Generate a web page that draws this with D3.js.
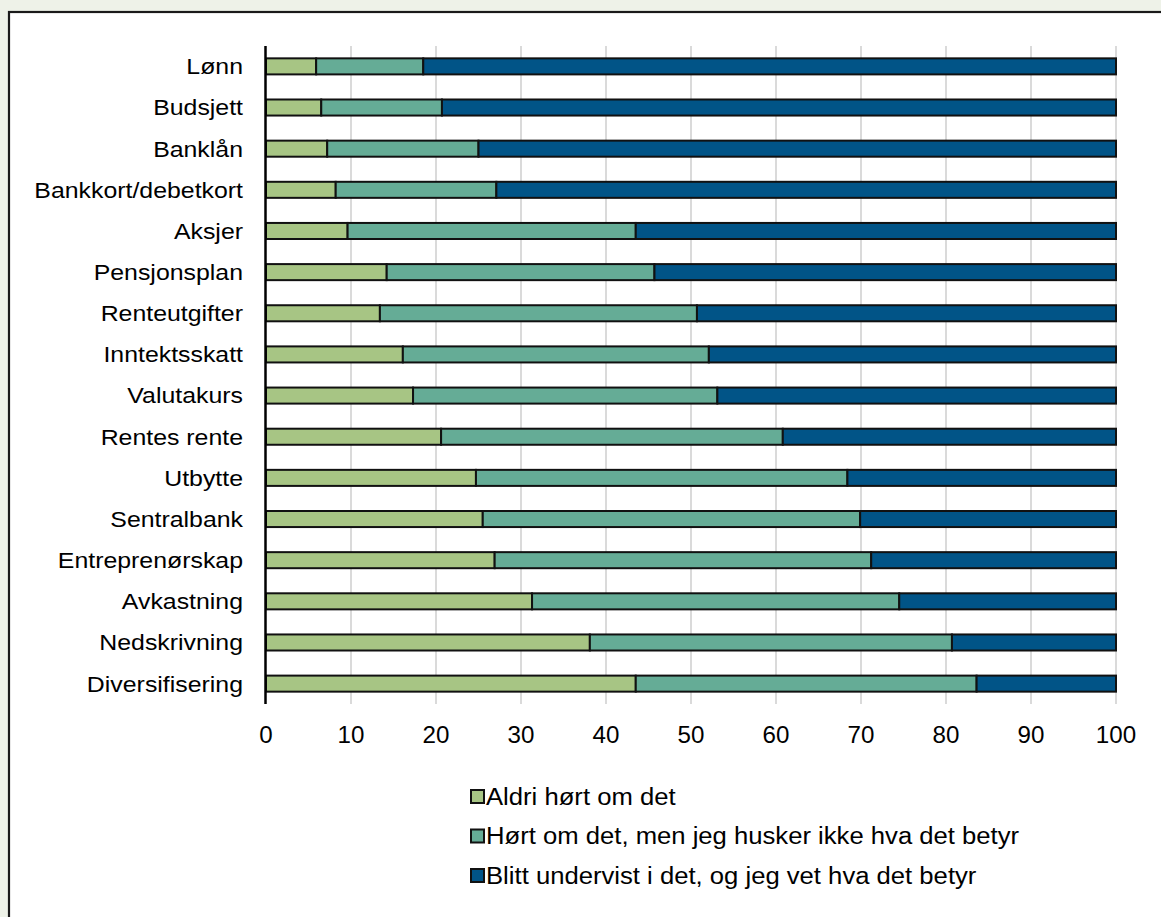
<!DOCTYPE html>
<html><head><meta charset="utf-8">
<script src="https://cdn.jsdelivr.net/npm/d3@7"></script>
<style>
body{margin:0;background:#eef2e8;}
svg{display:block;}
text{font-family:"Liberation Sans",Arial,sans-serif;fill:#000;}
</style></head>
<body>
<script>
const categories = ["Lønn","Budsjett","Banklån","Bankkort/debetkort","Aksjer","Pensjonsplan","Renteutgifter","Inntektsskatt","Valutakurs","Rentes rente","Utbytte","Sentralbank","Entreprenørskap","Avkastning","Nedskrivning","Diversifisering"];
const aldri = [5.9,6.5,7.2,8.2,9.6,14.2,13.4,16.1,17.3,20.6,24.7,25.5,26.9,31.3,38.1,43.5];
const hortOm = [12.6,14.2,17.8,18.9,33.9,31.5,37.3,36.0,35.8,40.2,43.7,44.4,44.3,43.2,42.6,40.1];
const undervist = categories.map((c,i)=> +(100 - aldri[i] - hortOm[i]).toFixed(1));
const seriesNames = ["Aldri hørt om det","Hørt om det, men jeg husker ikke hva det betyr","Blitt undervist i det, og jeg vet hva det betyr"];
const colors = ["#a7c584","#65ac96","#015487"];
const xTicks = [0,10,20,30,40,50,60,70,80,90,100];

const W=1161,H=917;
const svg=d3.select("body").append("svg").attr("width",W).attr("height",H);
svg.append("rect").attr("x",0).attr("y",0).attr("width",W).attr("height",H).attr("fill","#eef2e8");
svg.append("rect").attr("x",9).attr("y",12).attr("width",W+20).attr("height",H+20).attr("fill","#fff").attr("stroke","#1a1a1a").attr("stroke-width",2.2);

const x=d3.scaleLinear().domain([0,100]).range([266,1116]);
const y=d3.scaleBand().domain(categories).range([46,704]).paddingInner(0.61).paddingOuter(0.3);

function stretch(sel,k){
  sel.each(function(){ const w=this.getComputedTextLength(); d3.select(this).attr("textLength",w*k).attr("lengthAdjust","spacingAndGlyphs"); });
}

// gridlines
svg.append("g").selectAll("line").data(xTicks.slice(1)).join("line")
  .attr("x1",d=>x(d)).attr("x2",d=>x(d)).attr("y1",46).attr("y2",704)
  .attr("stroke","#dadada").attr("stroke-width",2);

const data = categories.map((c,i)=>({cat:c,aldri:aldri[i],hort:hortOm[i],under:undervist[i]}));
const stack=d3.stack().keys(["aldri","hort","under"])(data);

svg.append("g").selectAll("g").data(stack).join("g").attr("fill",(d,i)=>colors[i])
  .selectAll("rect").data(d=>d).join("rect")
  .attr("x",d=>x(d[0])).attr("width",d=>x(d[1])-x(d[0]))
  .attr("y",d=>y(d.data.cat)).attr("height",y.bandwidth())
  .attr("stroke","#111").attr("stroke-width",2);

// y axis line
svg.append("line").attr("x1",265.5).attr("x2",265.5).attr("y1",46).attr("y2",704).attr("stroke","#000").attr("stroke-width",2.5);

// category labels
const cl=svg.append("g").selectAll("text").data(categories).join("text")
  .attr("x",243).attr("y",d=>y(d)+y.bandwidth()/2).attr("dy","0.36em")
  .attr("text-anchor","end").attr("font-size",22).text(d=>d);
stretch(cl,1.13);

// x tick labels
const tl=svg.append("g").selectAll("text").data(xTicks).join("text")
  .attr("x",d=>x(d)).attr("y",743).attr("text-anchor","middle").attr("font-size",23).text(d=>d);
stretch(tl,1.05);

// legend
const lg=svg.append("g").selectAll("g").data(seriesNames).join("g")
  .attr("transform",(d,i)=>`translate(471,${790+i*39.5})`);
lg.append("rect").attr("width",13).attr("height",13).attr("fill",(d,i)=>colors[i]).attr("stroke","#111").attr("stroke-width",2);
const lt=lg.append("text").attr("x",15).attr("y",6.5).attr("dy","0.36em").attr("font-size",23).text(d=>d);
stretch(lt,1.115);
</script>
</body></html>
